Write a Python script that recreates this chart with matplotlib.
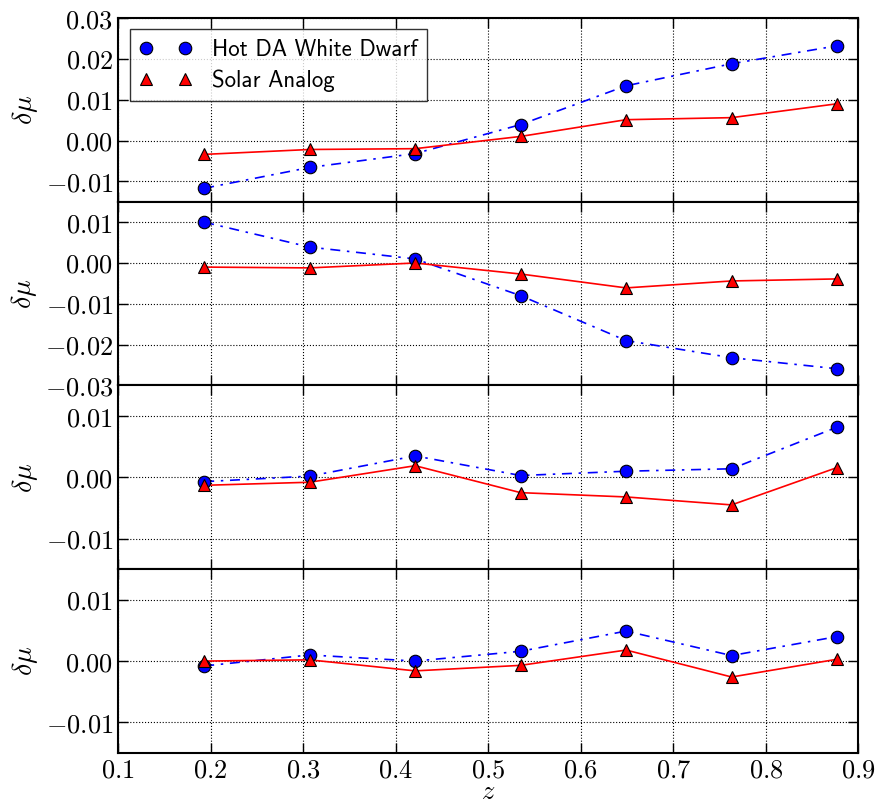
import matplotlib
matplotlib.use('Agg')
import matplotlib.pyplot as plt
from matplotlib.ticker import FuncFormatter, MultipleLocator

plt.rcParams['mathtext.fontset'] = 'cm'
plt.rcParams['xtick.direction'] = 'in'
plt.rcParams['ytick.direction'] = 'in'

# redshift bins
z = [0.193, 0.307, 0.421, 0.535, 0.649, 0.763, 0.877]

# one pair of series per panel (top to bottom)
wd_1 = [-0.0117, -0.0066, -0.0032, 0.0039, 0.0134, 0.0188, 0.0232]
sun_1 = [-0.0034, -0.0022, -0.0020, 0.0010, 0.0051, 0.0056, 0.0090]

wd_2 = [0.0100, 0.0039, 0.0010, -0.0080, -0.0190, -0.0232, -0.0259]
sun_2 = [-0.0010, -0.0012, 0.0000, -0.0027, -0.0061, -0.0044, -0.0039]

wd_3 = [-0.0007, 0.0002, 0.0035, 0.0003, 0.0010, 0.0014, 0.0082]
sun_3 = [-0.0013, -0.0008, 0.0019, -0.0025, -0.0032, -0.0045, 0.0016]

wd_4 = [-0.0008, 0.0010, 0.0000, 0.0016, 0.0049, 0.0009, 0.0040]
sun_4 = [0.0000, 0.0002, -0.0016, -0.0007, 0.0018, -0.0026, 0.0003]

ylims = [(-0.015, 0.03), (-0.03, 0.015), (-0.015, 0.015), (-0.015, 0.015)]
yticks = [[-0.01, 0.0, 0.01, 0.02, 0.03],
          [-0.03, -0.02, -0.01, 0.0, 0.01],
          [-0.01, 0.0, 0.01],
          [-0.01, 0.0, 0.01]]

panels = [(wd_1, sun_1), (wd_2, sun_2), (wd_3, sun_3), (wd_4, sun_4)]

fig, axes = plt.subplots(4, 1, sharex=True, figsize=(8.75, 8.01), dpi=100)
fig.subplots_adjust(left=0.135, right=0.981, top=0.9775, bottom=0.06, hspace=0)

fmt = FuncFormatter(lambda v, p: r'$%.2f$' % v if abs(v) > 1e-9 else r'$0.00$')
xfmt = FuncFormatter(lambda v, p: r'$%.1f$' % v)

for i, (ax, (wd, sun)) in enumerate(zip(axes, panels)):
    ax.plot(z, wd, color='blue', lw=1.2, dashes=(6, 4, 1.5, 4), zorder=2)
    ax.plot(z, sun, '-', color='red', lw=1.2, zorder=2)
    ax.plot(z, wd, 'o', color='blue', mec='black', mew=0.8, ms=9, ls='none',
            label='Hot DA White Dwarf', zorder=3)
    ax.plot(z, sun, '^', color='red', mec='black', mew=0.8, ms=9, ls='none',
            label='Solar Analog', zorder=3)
    ax.set_xlim(0.1, 0.9)
    ax.set_yticks(yticks[i])
    ax.set_ylim(*ylims[i])
    ax.yaxis.set_major_formatter(fmt)
    ax.xaxis.set_major_locator(MultipleLocator(0.1))
    ax.xaxis.set_major_formatter(xfmt)
    ax.grid(True, color='black', ls=':', lw=0.8)
    ax.tick_params(top=True, right=True, length=7, width=1, labelsize=19)
    for s in ax.spines.values():
        s.set_linewidth(1.5)
    ax.set_ylabel(r'$\delta\mu$', fontsize=20)

axes[3].set_xlabel('z', family='cmmi10', fontsize=19, labelpad=-3)

leg = axes[0].legend(loc='upper left', numpoints=2, fancybox=False,
                     prop={'family': 'cmss10', 'size': 16.5},
                     borderaxespad=0.5, handletextpad=0.9, handlelength=2.3,
                     labelspacing=0.4)
leg.get_frame().set_edgecolor('black')
leg.get_frame().set_linewidth(1.0)

fig.savefig('out.png', dpi=100)
